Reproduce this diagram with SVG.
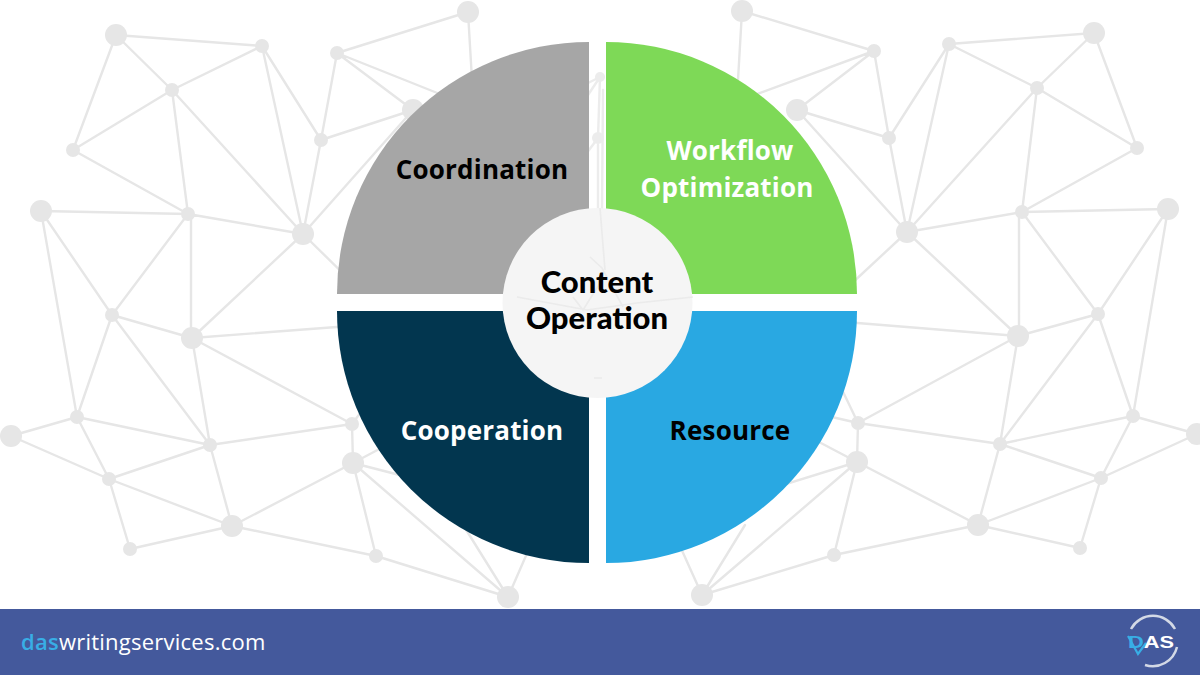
<svg xmlns="http://www.w3.org/2000/svg" width="1200" height="675" viewBox="0 0 1200 675">
<style>
.e{stroke:#e6e6e6;stroke-width:2.4;fill:none;stroke-linecap:round}
.n{fill:#e6e6e6}
.l{font-family:"Open Sans","Noto Sans",sans-serif;font-weight:700;font-size:26px;letter-spacing:.2px;text-anchor:middle}
.c{font-family:"Lato","Open Sans",sans-serif;font-weight:900;font-size:31px;text-anchor:middle;fill:#000}
.f{font-family:"Open Sans","Noto Sans",sans-serif;font-size:22px;letter-spacing:.24px}
.g{stroke:#e2e2e2;stroke-width:1.6;fill:none;opacity:.55}
</style>
<rect width="1200" height="675" fill="#fff"/>
<g id="connectors">
<path class="e" d="M116 35L262 46M116 35L172 90M116 35L73 150M172 90L262 46M172 90L73 150M172 90L188 214M172 90L303 234M73 150L188 214M262 46L303 234M262 46L321 140M337 53L321 140M321 140L303 234M337 53L468 12M337 53L500 118M337 53L413 110M321 140L413 110M303 234L413 110M41 211L188 214M188 214L303 234M41 211L112 315M41 211L77 417M188 214L112 315M191 214L191 338M303 234L192 338M303 234L360 290M112 315L192 338M112 315L77 417M112 315L210 445M192 338L210 445M192 338L350 326M192 338L352 424M77 417L11 436M77 417L210 445M77 417L109 479M11 436L109 479M210 445L352 424M210 445L109 479M210 445L232 526M109 479L232 526M109 479L130 549M130 549L232 526M232 526L353 463M232 526L376 556M352 424L353 463M352 424L370 400M353 463L400 438M353 463L450 488M353 463L376 556M353 463L508 597M376 556L508 597M508 597L460 520M508 597L535 535M468 12L472 80"/>
<path class="e" d="M1094 33L949 44M1094 33L1037 88M1094 33L1137 148M949 44L1037 88M1037 88L1137 148M1037 88L1022 212M1037 88L907 232M949 44L907 232M949 44L889 138M874 51L889 138M889 138L907 232M874 51L742 11M874 51L700 115M874 51L797 110M889 138L797 110M907 232L797 110M1168 209L1022 212M1022 212L1137 148M1022 212L907 232M1168 209L1098 314M1168 209L1133 416M1022 212L1098 314M1019 212L1019 336M907 232L1018 336M907 232L850 285M1098 314L1018 336M1098 314L1133 416M1098 314L1000 444M1018 336L1000 444M1018 336L845 322M1018 336L858 423M1133 416L1197 434M1133 416L1000 444M1133 416L1101 478M1197 434L1101 478M1000 444L858 423M1000 444L1101 478M1000 444L978 525M1101 478L978 525M1101 478L1080 548M1080 548L978 525M978 525L857 462M978 525L834 555M858 423L857 462M858 423L835 375M858 423L810 412M857 462L800 432M857 462L760 492M857 462L834 555M857 462L702 595M834 555L702 595M702 595L745 525M702 595L675 535M742 11L738 80"/>
</g>
<g id="network-nodes">
<g class="n">
<circle cx="116" cy="35" r="11"/><circle cx="262" cy="46" r="7"/><circle cx="172" cy="90" r="7"/><circle cx="73" cy="150" r="7"/><circle cx="188" cy="214" r="7"/><circle cx="41" cy="211" r="11"/><circle cx="303" cy="234" r="11"/><circle cx="337" cy="53" r="7"/><circle cx="321" cy="140" r="7"/><circle cx="468" cy="12" r="11"/><circle cx="413" cy="110" r="11"/><circle cx="112" cy="315" r="7"/><circle cx="192" cy="338" r="11"/><circle cx="77" cy="417" r="7"/><circle cx="11" cy="436" r="11"/><circle cx="210" cy="445" r="7"/><circle cx="109" cy="479" r="7"/><circle cx="232" cy="526" r="11"/><circle cx="130" cy="549" r="7"/><circle cx="352" cy="424" r="7"/><circle cx="353" cy="463" r="11"/><circle cx="376" cy="556" r="7"/><circle cx="508" cy="597" r="11"/>
<circle cx="1094" cy="33" r="11"/><circle cx="949" cy="44" r="7"/><circle cx="1037" cy="88" r="7"/><circle cx="1137" cy="148" r="7"/><circle cx="1022" cy="212" r="7"/><circle cx="1168" cy="209" r="11"/><circle cx="907" cy="232" r="11"/><circle cx="874" cy="51" r="7"/><circle cx="889" cy="138" r="7"/><circle cx="742" cy="11" r="11"/><circle cx="797" cy="110" r="11"/><circle cx="1098" cy="314" r="7"/><circle cx="1018" cy="336" r="11"/><circle cx="1133" cy="416" r="7"/><circle cx="1197" cy="434" r="11"/><circle cx="1000" cy="444" r="7"/><circle cx="1101" cy="478" r="7"/><circle cx="978" cy="525" r="11"/><circle cx="1080" cy="548" r="7"/><circle cx="858" cy="423" r="7"/><circle cx="857" cy="462" r="11"/><circle cx="834" cy="555" r="7"/><circle cx="702" cy="595" r="11"/>
</g>
</g>
<g id="gap-lines" opacity=".75"><path class="e" d="M600 77L586 84M600 77L586 98M600 77L598 138M598 138L586 154M598 145L598 208M603 90L602 208"/><circle class="n" cx="600" cy="77" r="5"/><circle class="n" cx="598" cy="138" r="6"/></g>
<g id="coordination"><path fill="#a6a6a6" d="M589 294H337A252 252 0 0 1 589 42Z"/><text class="l" x="482" y="179" fill="#000">Coordination</text></g>
<g id="workflow-optimization"><path fill="#7ed957" d="M606 294H857A251 252 0 0 0 606 42Z"/><text class="l" x="730" y="160" fill="#fff">Workflow</text><text class="l" x="727" y="197" fill="#fff">Optimization</text></g>
<g id="cooperation"><path fill="#02364f" d="M589 311H337A252 252 0 0 0 589 563Z"/><text class="l" x="482" y="440" fill="#fff">Cooperation</text></g>
<g id="resource"><path fill="#29a8e2" d="M606 311H857A251 252 0 0 1 606 563Z"/><text class="l" x="730" y="440" fill="#000">Resource</text></g>
<g id="content-operation"><circle cx="597.5" cy="303" r="95" fill="#f5f5f5"/>
<path class="g" d="M600 208L605 270M590 257L602 268L623 307M573 297L583 310L600 283M517 297L587 310L637 303L693 297M594 378H602"/>
<text class="c" x="597" y="293">Content</text><text class="c" x="597" y="329">Operation</text></g>
<g id="footer"><rect y="609" width="1200" height="66" fill="#44599c"/>
<text class="f" x="21" y="650" fill="#fff"><tspan fill="#38aee6" font-weight="600">das</tspan>writingservices.com</text></g>
<g id="logo"><path d="M1131 629A25 25 0 0 1 1175 629M1177 647A25 25 0 0 1 1145 665" fill="none" stroke="#d3d9e6" stroke-width="2.5"/>
<path d="M1128 636L1138 654L1146 643" fill="none" stroke="#38aee6" stroke-width="2.2"/>
<text x="1128" y="648" font-family="Liberation Sans,sans-serif" font-weight="700" font-size="16" textLength="46" lengthAdjust="spacingAndGlyphs" fill="#fff"><tspan fill="#38aee6">D</tspan>AS</text></g>
</svg>
